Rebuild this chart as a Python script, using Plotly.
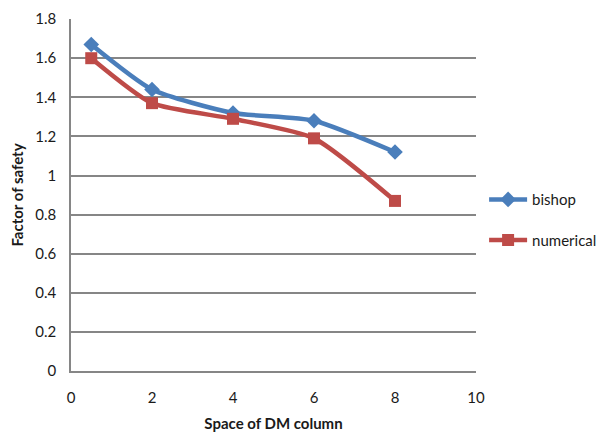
import plotly.graph_objects as go

x_space = [0.5, 2, 4, 6, 8]
bishop = [1.67, 1.44, 1.32, 1.28, 1.12]
numerical = [1.60, 1.37, 1.29, 1.19, 0.87]

font_family = "Lato, 'Open Sans', sans-serif"

fig = go.Figure()
fig.add_trace(go.Scatter(
    x=x_space, y=bishop, name="bishop", mode="lines+markers",
    line=dict(color="#4A7EBB", width=4.5, shape="spline", smoothing=0.6),
    marker=dict(symbol="diamond", size=12, color="#4A7EBB"),
    legendgroup="a",
))
fig.add_trace(go.Scatter(
    x=x_space, y=numerical, name="numerical", mode="lines+markers",
    line=dict(color="#BE4B48", width=4.5, shape="spline", smoothing=0.6),
    marker=dict(symbol="square", size=12, color="#BE4B48"),
    legendgroup="b",
))

fig.update_layout(
    width=605, height=443,
    margin=dict(l=63, r=137, t=11, b=80, autoexpand=False),
    paper_bgcolor="white", plot_bgcolor="white",
    font=dict(family=font_family, size=15, color="#1a1a1a"),
    showlegend=True,
    legend=dict(x=1.02, y=0.43, xanchor="left", yanchor="middle",
                traceorder="grouped", tracegroupgap=18, itemwidth=38,
                font=dict(size=15), bgcolor="rgba(0,0,0,0)"),
    xaxis=dict(range=[0, 10], tickvals=[0, 2, 4, 6, 8, 10], showgrid=False,
               showline=True, linecolor="#868686", linewidth=1.5, zeroline=False,
               ticks="", ticklabelstandoff=12, automargin=False,
               title=dict(text="<b>Space of DM column</b>", font=dict(size=15), standoff=14)),
    yaxis=dict(range=[0, 1.8005], tickvals=[0, 0.2, 0.4, 0.6, 0.8, 1, 1.2, 1.4, 1.6, 1.8],
               ticktext=["0", "0.2", "0.4", "0.6", "0.8", "1", "1.2", "1.4", "1.6", "1.8"],
               showgrid=True, gridcolor="#868686", gridwidth=1.5,
               showline=True, linecolor="#868686", linewidth=1.5, zeroline=False,
               ticks="", ticklabelstandoff=10, automargin=False, ticklabeloverflow="allow",
               title=dict(text="<b>Factor of safety</b>", font=dict(size=15), standoff=10)),
)

fig.write_html("out.html")
